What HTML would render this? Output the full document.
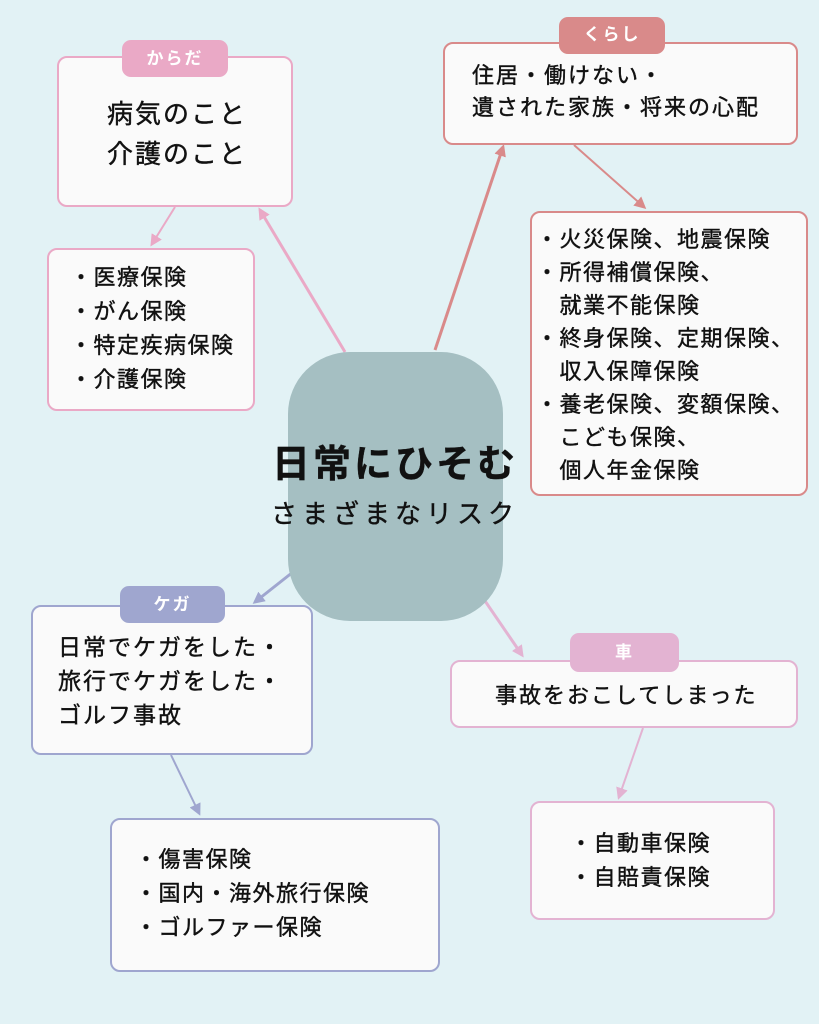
<!DOCTYPE html>
<html><head><meta charset="utf-8"><style>
body{margin:0;width:819px;height:1024px;background:#e2f2f5;position:relative;overflow:hidden;font-family:"Liberation Sans","Noto Sans CJK JP",sans-serif;color:#111}
.b{position:absolute;background:#fafafa;border:2px solid;border-radius:10px;box-sizing:border-box}
.t{position:absolute;border-radius:9px;color:#fff;font-size:17px;font-weight:bold;text-align:center;box-sizing:border-box;letter-spacing:2px}
.x{position:absolute;font-size:22px;letter-spacing:2px;line-height:34px;white-space:nowrap;-webkit-text-stroke:0.4px #111}
.l{letter-spacing:1.5px}
</style></head><body>
<svg width="819" height="1024" style="position:absolute;left:0;top:0">
<defs>
<marker id="r" markerWidth="12" markerHeight="12" refX="9" refY="6" orient="auto" markerUnits="userSpaceOnUse"><path d="M0,0 L12,6 L0,12z" fill="#d98a8a"/></marker>
<marker id="u" markerWidth="12" markerHeight="12" refX="9" refY="6" orient="auto" markerUnits="userSpaceOnUse"><path d="M0,0 L12,6 L0,12z" fill="#9fa6cf"/></marker>
<marker id="m" markerWidth="12" markerHeight="12" refX="9" refY="6" orient="auto" markerUnits="userSpaceOnUse"><path d="M0,0 L12,6 L0,12z" fill="#e3b3d2"/></marker>
<marker id="p2" markerWidth="12" markerHeight="12" refX="9" refY="6" orient="auto" markerUnits="userSpaceOnUse"><path d="M0,0 L12,6 L0,12z" fill="#eaa9c6"/></marker>
</defs>
<g stroke-width="3" fill="none">
<line x1="345" y1="352" x2="260" y2="210" stroke="#eaa9c6" marker-end="url(#p2)"/>
<line x1="175" y1="207" x2="152" y2="244" stroke="#eaa9c6" stroke-width="2" marker-end="url(#p2)"/>
<line x1="435" y1="350" x2="503" y2="147" stroke="#d98a8a" marker-end="url(#r)"/>
<line x1="574" y1="145" x2="644" y2="207" stroke="#d98a8a" stroke-width="2" marker-end="url(#r)"/>
<line x1="293" y1="572" x2="255" y2="602" stroke="#9fa6cf" marker-end="url(#u)"/>
<line x1="171" y1="755" x2="199" y2="813" stroke="#9fa6cf" stroke-width="2" marker-end="url(#u)"/>
<line x1="483" y1="598" x2="522" y2="655" stroke="#e3b3d2" marker-end="url(#m)"/>
<line x1="643" y1="728" x2="619" y2="797" stroke="#e3b3d2" stroke-width="2" marker-end="url(#m)"/>
</g></svg>

<div class="b" style="left:57px;top:56px;width:236px;height:151px;border-color:#eaa9c6"></div>
<div class="t" style="left:122px;top:40px;width:106px;height:37px;line-height:37px;background:#eaa9c6">からだ</div>
<div class="x" style="left:107px;top:94px;font-size:26px;line-height:40px">病気のこと<br>介護のこと</div>

<div class="b" style="left:47px;top:248px;width:208px;height:163px;border-color:#eaa9c6"></div>
<div class="x l" style="left:70px;top:261px">・医療保険<br>・がん保険<br>・特定疾病保険<br>・介護保険</div>

<div class="b" style="left:443px;top:42px;width:355px;height:103px;border-color:#d98a8a"></div>
<div class="t" style="left:559px;top:17px;width:106px;height:37px;line-height:35px;background:#d98a8a">くらし</div>
<div class="x" style="left:472px;top:60px;line-height:32px">住居・働けない・<br>遺された家族・将来の心配</div>

<div class="b" style="left:530px;top:211px;width:278px;height:285px;border-color:#d98a8a"></div>
<div class="x l" style="left:536px;top:223px;line-height:33px">・火災保険、地震保険<br>・所得補償保険、<br>　就業不能保険<br>・終身保険、定期保険、<br>　収入保障保険<br>・養老保険、変額保険、<br>　こども保険、<br>　個人年金保険</div>

<div style="position:absolute;left:288px;top:352px;width:215px;height:269px;background:#a5bfc2;border-radius:62px"></div>
<div class="x" style="left:195px;top:440px;width:400px;text-align:center;font-size:38px;letter-spacing:3px;font-weight:bold;line-height:50px">日常にひそむ</div>
<div class="x" style="left:195px;top:494px;width:400px;text-align:center;font-size:26px;letter-spacing:5px;line-height:40px">さまざまなリスク</div>

<div class="b" style="left:31px;top:605px;width:282px;height:150px;border-color:#9fa6cf"></div>
<div class="t" style="left:120px;top:586px;width:105px;height:37px;line-height:37px;background:#9fa6cf">ケガ</div>
<div class="x" style="left:58px;top:630px;font-size:23px">日常でケガをした・<br>旅行でケガをした・<br>ゴルフ事故</div>

<div class="b" style="left:110px;top:818px;width:330px;height:154px;border-color:#9fa6cf"></div>
<div class="x l" style="left:135px;top:843px">・傷害保険<br>・国内・海外旅行保険<br>・ゴルファー保険</div>

<div class="b" style="left:450px;top:660px;width:348px;height:68px;border-color:#e3b3d2"></div>
<div class="t" style="left:570px;top:633px;width:109px;height:39px;line-height:39px;background:#e3b3d2">車</div>
<div class="x" style="left:495px;top:679px">事故をおこしてしまった</div>

<div class="b" style="left:530px;top:801px;width:245px;height:119px;border-color:#e3b3d2"></div>
<div class="x l" style="left:570px;top:827px">・自動車保険<br>・自賠責保険</div>
</body></html>
